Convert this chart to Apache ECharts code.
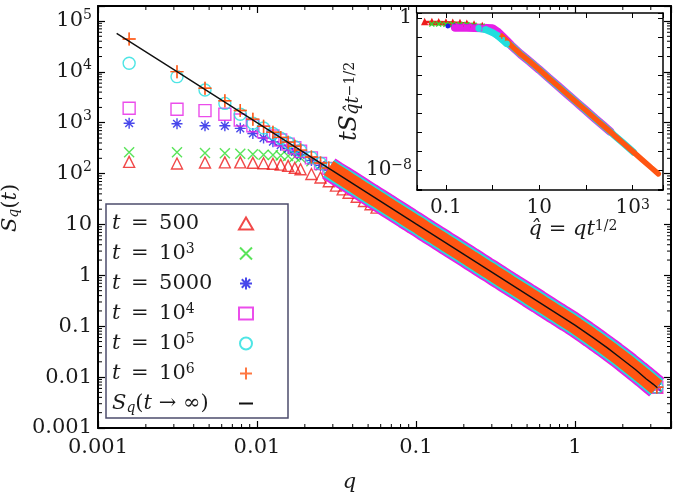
<!DOCTYPE html>
<html>
<head>
<meta charset="utf-8">
<script src="https://cdn.jsdelivr.net/npm/echarts@6/dist/echarts.min.js"></script>
<style>
  html, body { margin: 0; padding: 0; background: #fff; }
  #chart { width: 678px; height: 492px; }
</style>
</head>
<body>
<div id="chart"></div>
<script>
// ---- data ----
// q values of the first modes (left part, where the curves differ)
var qHead = [0.00157, 0.00314, 0.00471, 0.00628, 0.00785, 0.00942, 0.0110, 0.0126, 0.0141, 0.0157, 0.0173,
             0.0188, 0.0220, 0.0251, 0.0283, 0.0314, 0.0346, 0.0377, 0.0424, 0.0471, 0.0518, 0.0565];
var s500 = [170, 158, 165, 166, 166, 163, 160, 156, 150, 142, 130, 122, 98, 84, 71, 58, 49, 42, 35, 29, 25, 21.5];
var s1e3 = [263, 263, 255, 252, 245, 240, 236, 232, 228, 222, 215, 205, 175, 145, 120, 98, 81, 69, 55, 45, 37.5, 31.5];
var s5e3 = [980, 955, 870, 870, 775, 615, 500, 425, 363, 310, 268, 234, 182, 145, 118, 98, 81, 69, 56, 45.5, 38, 32];
var s1e4 = [1930, 1840, 1730, 1470, 1135, 870, 660, 550, 457, 380, 323, 275, 204, 158, 127, 102, 85, 72, 57, 46, 38, 32];
var s1e5 = [14800, 8050, 4400, 2400, 1470, 980, 790, 615, 495, 405, 337, 284, 208, 160, 127, 103, 85, 72, 57, 46, 38, 32];
var s1e6 = [44300, 10100, 4770, 2700, 1740, 1175, 850, 650, 515, 415, 345, 290, 212, 162, 129, 104, 86, 72, 57, 46, 38, 32];

// collapsed tail, shared by all t
var qTail = [0.0603, 0.0646, 0.0692, 0.0741, 0.0794, 0.0851, 0.0912, 0.0977, 0.105, 0.112, 0.120, 0.129, 0.138, 0.148,
             0.158, 0.170, 0.182, 0.195, 0.209, 0.224, 0.240, 0.257, 0.275, 0.295, 0.316, 0.339, 0.363, 0.389, 0.417,
             0.447, 0.479, 0.513, 0.550, 0.589, 0.631, 0.676, 0.724, 0.776, 0.832, 0.891, 0.955, 1.023, 1.096, 1.175,
             1.259, 1.349, 1.445, 1.549, 1.660, 1.778, 1.905, 2.042, 2.188, 2.344, 2.512, 2.692, 2.884, 3.090, 3.273];
var sTail = [28.3, 24.6, 21.4, 18.7, 16.3, 14.2, 12.4, 10.8, 9.40, 8.20, 7.14, 6.22, 5.42, 4.73, 4.12, 3.59, 3.13, 2.73,
             2.38, 2.07, 1.81, 1.57, 1.37, 1.20, 1.04, 0.908, 0.792, 0.690, 0.601, 0.524, 0.457, 0.398, 0.347, 0.303,
             0.264, 0.230, 0.200, 0.175, 0.152, 0.133, 0.116, 0.1005, 0.0867, 0.0746, 0.0641, 0.0550, 0.0470, 0.0402,
             0.0343, 0.0292, 0.0248, 0.0210, 0.0177, 0.0149, 0.0125, 0.0105, 0.00879, 0.00733, 0.00631];

// S_q(t -> infinity)
var lineQ = [0.00131, 0.003, 0.01, 0.03, 0.1, 0.3, 0.6, 1.0, 1.3, 1.6, 2.0, 2.4, 2.8, 3.1, 3.3];
var lineS = [57300, 11070, 1007, 113, 10.3, 1.16, 0.292, 0.105, 0.0597, 0.0375, 0.0220, 0.0141, 0.0093, 0.0073, 0.0062];

// inset: master curve t S vs q^ = q t^(1/2)
var insetQ = [1.0, 1.26, 1.58, 2.0, 2.51, 3.16, 3.98, 5.01, 6.31, 7.94, 10, 15.8, 25.1, 39.8, 63.1, 74.1, 100, 105,
              158, 234, 251, 331, 398, 631, 1000, 1047, 1585, 2512, 3548];
var insetY = [0.282, 0.191, 0.112, 0.0631, 0.0355, 0.0209, 0.0126, 0.00794, 0.00501, 0.00309, 0.00191, 7.08e-4,
              2.63e-4, 9.77e-5, 3.63e-5, 2.57e-5, 1.35e-5, 1.23e-5, 5.01e-6, 2.19e-6, 1.86e-6, 1.05e-6, 6.92e-7,
              2.57e-7, 9.55e-8, 8.71e-8, 3.55e-8, 1.32e-8, 6.31e-9];
var insetEnd = [74.1, 105, 234, 331, 1047, 3548];
var hq500 = [0.035, 0.05, 0.07, 0.1, 0.14, 0.2, 0.28, 0.4, 0.6];
var hy500 = [0.62, 0.62, 0.61, 0.6, 0.58, 0.55, 0.51, 0.46, 0.39];
var hq1e3 = [0.05, 0.07, 0.1, 0.14, 0.2, 0.28, 0.4, 0.6];
var hy1e3 = [0.48, 0.48, 0.47, 0.47, 0.46, 0.45, 0.42, 0.37];
var hq5e3 = [0.11, 0.15, 0.2, 0.28, 0.4, 0.6];
var hy5e3 = [0.38, 0.38, 0.37, 0.36, 0.35, 0.33];
var hq1e4 = [0.157, 0.2, 0.28, 0.4, 0.6];
var hy1e4 = [0.32, 0.32, 0.32, 0.31, 0.3];
var hq1e5 = [0.5, 0.7, 1.0, 1.26, 1.58, 2.0];
var hy1e5 = [0.29, 0.25, 0.17, 0.12, 0.075, 0.045];
var hq1e6 = [1.57];
var hy1e6 = [0.11];

var names = ['t500', 't1e3', 't5e3', 't1e4', 't1e5', 't1e6'];

// ---- styling ----
var F = 'DejaVu Serif';
var INK = '#1a1a1a';
var colors = ['#ee1c1c', '#30dd30', '#1a1ae6', '#e620e6', '#22dede', '#ff5512'];
var symbols = ['triangle', 'path://M0,0L10,10M10,0L0,10',
               'path://M5,0L5,10M0,5L10,5M1.5,1.5L8.5,8.5M8.5,1.5L1.5,8.5',
               'rect', 'circle', 'path://M5,0L5,10M0,5L10,5'];
var sizes = [11, 10, 11, 12, 12, 13];

var mainX = [0.001, 4.02], mainY = [0.001, 197000];
var insX = [0.024, 4470], insY = [8.9e-10, 1.83];

function pairs(xs, ys) { return xs.map(function (x, i) { return [x, ys[i]]; }); }
function lg(v) { return Math.log(v) / Math.LN10; }
function powerOf(v) {
    var e = Math.round(lg(v));
    return Math.abs(lg(v) - e) < 0.01 ? e : null;
}

function makeRich(big, small, tiny) {
    return {
        it: {fontFamily: F, fontStyle: 'italic', fontSize: big, color: INK, align: 'left'},
        n: {fontFamily: F, fontSize: big, color: INK, align: 'left'},
        sup: {fontFamily: F, fontSize: small, color: INK, verticalAlign: 'top', lineHeight: small, align: 'left'},
        sub: {fontFamily: F, fontStyle: 'italic', fontSize: small, color: INK, verticalAlign: 'bottom', lineHeight: small, align: 'left'},
        ss: {fontFamily: F, fontSize: tiny, color: INK, verticalAlign: 'middle', lineHeight: tiny, align: 'left'}
    };
}
var rich = makeRich(21, 14, 10);
var richInsetY = makeRich(24, 18, 14);

var legendText = {
    t500: '{it|t}{n|\u2002=\u2002500}',
    t1e3: '{it|t}{n|\u2002=\u200210}{sup|3}',
    t5e3: '{it|t}{n|\u2002=\u20025000}',
    t1e4: '{it|t}{n|\u2002=\u200210}{sup|4}',
    t1e5: '{it|t}{n|\u2002=\u200210}{sup|5}',
    t1e6: '{it|t}{n|\u2002=\u200210}{sup|6}',
    Sinf: '{it|S}{sub|q}{n|(}{it|t}{n| \u2192 \u221e)}'
};

var heads = [s500, s1e3, s5e3, s1e4, s1e5, s1e6];
var insetHeads = [[hq500, hy500], [hq1e3, hy1e3], [hq5e3, hy5e3], [hq1e4, hy1e4], [hq1e5, hy1e5], [hq1e6, hy1e6]];

function markerStyle(i, filled) {
    return {color: filled ? colors[i] : 'rgba(0,0,0,0)', borderColor: colors[i], borderWidth: 1.4};
}

var series = [];
// main plot markers, all t
names.forEach(function (nm, i) {
    series.push({
        type: 'scatter', name: nm, xAxisIndex: 0, yAxisIndex: 0,
        symbol: symbols[i], symbolSize: sizes[i], symbolKeepAspect: true,
        itemStyle: markerStyle(i, false),
        data: pairs(qHead, heads[i]).concat(pairs(qTail, sTail))
    });
});
// collapsed band of the three latest times
[[3, 24], [4, 20.5], [5, 17]].forEach(function (b) {
    var i = b[0];
    series.push({
        type: 'line', name: 'band' + i, xAxisIndex: 0, yAxisIndex: 0, silent: true,
        symbol: 'none', lineStyle: {color: colors[i], width: b[1]},
        data: pairs(qHead.slice(14), heads[i].slice(14)).concat(pairs(qTail, sTail))
    });
});
// the t = 10^6 markers again on top of the band
series.push({
    type: 'scatter', name: 'top1e6', xAxisIndex: 0, yAxisIndex: 0, silent: true,
    symbol: symbols[5], symbolSize: sizes[5], itemStyle: markerStyle(5, false),
    data: pairs(qHead, s1e6).concat(pairs(qTail, sTail))
});
series.push({
    type: 'line', name: 'Sinf', xAxisIndex: 0, yAxisIndex: 0, symbol: 'none', showSymbol: false,
    lineStyle: {color: '#111', width: 1.4}, itemStyle: {color: '#111'},
    data: pairs(lineQ, lineS)
});

// inset
var insetWidths = [2.5, 2.5, 2.5, 8.5, 7, 5.5];
names.forEach(function (nm, i) {
    var hq = insetHeads[i][0], hy = insetHeads[i][1];
    var last = hq[hq.length - 1];
    var data = pairs(hq, hy);
    insetQ.forEach(function (q, k) {
        if (q > last && q <= insetEnd[i]) data.push({value: [q, insetY[k]], symbol: 'none'});
    });
    series.push({
        type: 'line', name: 'inset' + i, xAxisIndex: 2, yAxisIndex: 2, silent: true,
        symbol: symbols[i], symbolSize: 5, showSymbol: true,
        itemStyle: markerStyle(i, true),
        lineStyle: {color: colors[i], width: insetWidths[i], cap: 'round'},
        data: data
    });
});

// minor ticks 2..9 of the main log axes
var minorMult = [2, 3, 4, 5, 6, 7, 8, 9];
var minorX = [], minorY = [];
[0.001, 0.01, 0.1, 1].forEach(function (d) {
    minorMult.forEach(function (m) { if (d * m < mainX[1]) minorX.push(d * m); });
});
[0.001, 0.01, 0.1, 1, 10, 100, 1000, 1e4, 1e5].forEach(function (d) {
    minorMult.forEach(function (m) { if (d * m < mainY[1]) minorY.push(d * m); });
});
function tickLine(x1, y1, x2, y2) {
    return {type: 'line', shape: {x1: x1, y1: y1, x2: x2, y2: y2}, style: {stroke: '#000', lineWidth: 1}};
}
series.push({
    type: 'custom', name: 'minorX', xAxisIndex: 0, yAxisIndex: 0, silent: true, z: 3,
    data: minorX.map(function (v) { return [v, 1]; }),
    renderItem: function (params, api) {
        var b = api.coord([api.value(0), mainY[0]]), t = api.coord([api.value(0), mainY[1]]);
        return {type: 'group', children: [tickLine(b[0], b[1], b[0], b[1] - 4), tickLine(t[0], t[1], t[0], t[1] + 4)]};
    }
});
series.push({
    type: 'custom', name: 'minorY', xAxisIndex: 0, yAxisIndex: 0, silent: true, z: 3,
    data: minorY.map(function (v) { return [1, v]; }),
    renderItem: function (params, api) {
        var l = api.coord([mainX[0], api.value(1)]), r = api.coord([mainX[1], api.value(1)]);
        return {type: 'group', children: [tickLine(l[0], l[1], l[0] + 4, l[1]), tickLine(r[0], r[1], r[0] - 4, r[1])]};
    }
});

// ---- axes ----
var mainXLabels = {'-3': '0.001', '-2': '0.01', '-1': '0.1', '0': '1'};
var mainYLabels = {'-3': '0.001', '-2': '0.01', '-1': '0.1', '0': '1', '1': '10'};

function logAxis(extra) {
    var a = {
        type: 'log', logBase: 10, splitLine: {show: false},
        axisLine: {onZero: false, lineStyle: {color: '#000', width: 2}},
        axisTick: {inside: true, length: 7, lineStyle: {color: '#000', width: 1.2}},
        axisLabel: {show: false}
    };
    for (var k in extra) a[k] = extra[k];
    return a;
}
var insetLine = {onZero: false, lineStyle: {color: '#000', width: 1.5}};
var insetTick = {inside: true, length: 5, lineStyle: {color: '#000', width: 1}};
var labelBase = {fontFamily: F, fontSize: 21, color: INK, rich: rich};

var option = {
    animation: false,
    backgroundColor: '#fff',
    grid: [
        {left: 98, top: 6, width: 573, height: 422, outerBoundsMode: 'none', containLabel: false},
        {left: 417, top: 13, width: 246, height: 177, outerBoundsMode: 'none', containLabel: false,
         show: true, backgroundColor: '#fff', borderWidth: 0}
    ],
    xAxis: [
        logAxis({gridIndex: 0, min: mainX[0], max: mainX[1], position: 'bottom',
            axisLabel: Object.assign({}, labelBase, {margin: 9, formatter: function (v) {
                var e = powerOf(v); return e === null ? '' : (mainXLabels[e] || '');
            }}),
            name: '{it|q}', nameLocation: 'middle', nameGap: 44,
            nameTextStyle: {rich: rich, padding: [0, 70, 0, 0]}}),
        logAxis({gridIndex: 0, min: mainX[0], max: mainX[1], position: 'top'}),
        logAxis({gridIndex: 1, min: insX[0], max: insX[1], position: 'bottom',
            axisLine: insetLine, axisTick: insetTick,
            axisLabel: Object.assign({}, labelBase, {fontSize: 20, margin: 8, formatter: function (v) {
                var e = powerOf(v);
                if (e === -1) return '0.1';
                if (e === 1) return '10';
                if (e === 3) return '10{sup|3}';
                return '';
            }}),
            name: '{it|q\u0302}{n| = }{it|qt}{sup|1/2}', nameLocation: 'middle', nameGap: 24,
            nameTextStyle: {rich: rich, padding: [0, 0, 0, 66]}}),
        logAxis({gridIndex: 1, min: insX[0], max: insX[1], position: 'top', axisLine: insetLine, axisTick: insetTick})
    ],
    yAxis: [
        logAxis({gridIndex: 0, min: mainY[0], max: mainY[1], position: 'left',
            axisLabel: Object.assign({}, labelBase, {margin: 6, lineHeight: 26, formatter: function (v) {
                var e = powerOf(v);
                if (e === null) return '';
                if (e >= 2) return '10{sup|' + e + '}';
                return mainYLabels[e] || '';
            }}),
            name: '{it|S}{sub|q}{n|(}{it|t}{n|)}', nameLocation: 'middle', nameGap: 64, nameRotate: 90,
            nameTextStyle: {rich: rich, padding: [0, 0, 0, 18]}}),
        logAxis({gridIndex: 0, min: mainY[0], max: mainY[1], position: 'right'}),
        logAxis({gridIndex: 1, min: insY[0], max: insY[1], position: 'left',
            axisLine: insetLine, axisTick: insetTick,
            axisLabel: Object.assign({}, labelBase, {fontSize: 20, margin: 5, lineHeight: 24, formatter: function (v) {
                var e = powerOf(v);
                if (e === 0) return '1';
                if (e === -8) return '10{sup|\u22128}';
                return '';
            }}),
            name: '{it|tS}{sub|q\u0302t}{ss|\u22121/2}', nameLocation: 'middle', nameGap: 48, nameRotate: 90,
            nameTextStyle: {rich: richInsetY}}),
        logAxis({gridIndex: 1, min: insY[0], max: insY[1], position: 'right', axisLine: insetLine, axisTick: insetTick})
    ],
    legend: {
        orient: 'vertical', left: 106, top: 204, align: 'right', z: 10,
        itemWidth: 14, itemHeight: 12, itemGap: 7,
        padding: [8, 34, 3, 6], borderColor: '#4c4c6c', borderWidth: 1.5, backgroundColor: '#fff',
        textStyle: {fontFamily: F, fontSize: 21, color: INK, width: 122, lineHeight: 23, rich: rich},
        formatter: function (name) { return legendText[name]; },
        data: names.concat([{name: 'Sinf', itemStyle: {opacity: 0}}]),
        selectedMode: false
    },
    series: series
};

var chart = echarts.init(document.getElementById('chart'), null, {renderer: 'canvas'});
chart.setOption(option);
</script>
</body>
</html>
